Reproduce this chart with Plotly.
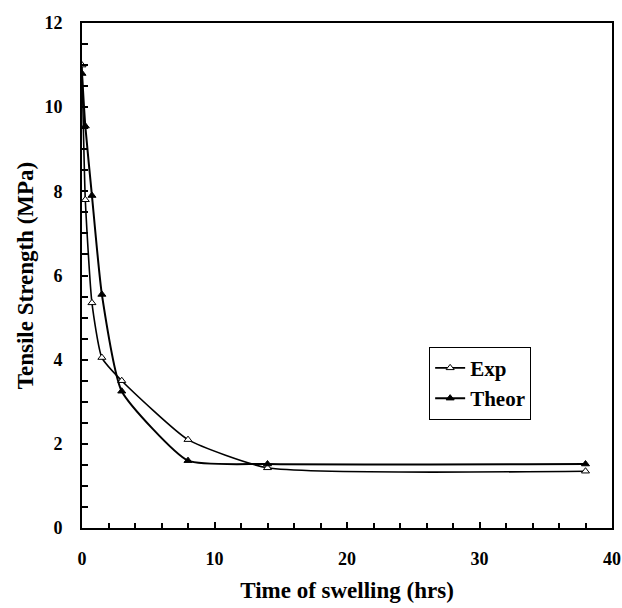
import plotly.graph_objects as go

# Swelling time (hrs) and tensile strength (MPa)
time_exp = [0, 0.25, 0.75, 1.5, 3, 8, 14, 38]
strength_exp = [11.0, 7.8, 5.35, 4.05, 3.5, 2.1, 1.43, 1.35]

time_theor = [0, 0.25, 0.75, 1.5, 3, 8, 14, 38]
strength_theor = [10.8, 9.55, 7.9, 5.55, 3.25, 1.6, 1.52, 1.52]

x_ticks = [0, 10, 20, 30, 40]
y_ticks = [0, 2, 4, 6, 8, 10, 12]

SERIF = "Liberation Serif, Times New Roman, serif"

fig = go.Figure()
fig.add_trace(go.Scatter(
    x=time_exp, y=strength_exp, name="<b>Exp</b>", mode="lines+markers",
    line=dict(color="black", width=1.6, shape="spline", smoothing=0.5),
    marker=dict(symbol="triangle-up", size=7, color="white",
                line=dict(color="black", width=1)),
))
fig.add_trace(go.Scatter(
    x=time_theor, y=strength_theor, name="<b>Theor</b>", mode="lines+markers",
    line=dict(color="black", width=2, shape="spline", smoothing=0.5),
    marker=dict(symbol="triangle-up", size=7, color="black",
                line=dict(color="black", width=1)),
))

axis_common = dict(
    showline=True, linecolor="black", linewidth=2, mirror=True,
    showgrid=False, zeroline=False, ticks="inside", tickcolor="black",
    tickwidth=1.5, ticklen=6, automargin=False,
    tickfont=dict(family=SERIF, size=18, color="black"),
)

fig.update_xaxes(
    range=[0, 40], tickmode="array", tickvals=x_ticks,
    ticktext=[f"<b>{v}</b>" for v in x_ticks], ticklabelstandoff=13,
    minor=dict(dtick=2, ticks="inside", ticklen=5, tickcolor="black", tickwidth=1.5),
    title=dict(text="<b>Time of swelling (hrs)</b>",
               font=dict(family=SERIF, size=23, color="black"), standoff=14),
    **axis_common,
)
fig.update_yaxes(
    range=[0, 12], tickmode="array", tickvals=y_ticks,
    ticktext=[f"<b>{v}</b>" for v in y_ticks], ticklabelstandoff=14,
    minor=dict(dtick=0.5, ticks="inside", ticklen=6, tickcolor="black", tickwidth=1.5),
    title=dict(text="<b>Tensile Strength (MPa)</b>",
               font=dict(family=SERIF, size=23, color="black"), standoff=4),
    **axis_common,
)

fig.update_layout(
    width=622, height=608,
    margin=dict(l=82, r=10, t=23, b=80),
    paper_bgcolor="white", plot_bgcolor="white",
    showlegend=True,
    legend=dict(
        x=0.655, y=0.359, xanchor="left", yanchor="top",
        bordercolor="black", borderwidth=1, bgcolor="white",
        font=dict(family=SERIF, size=21, color="black"),
        itemwidth=30, tracegroupgap=0,
    ),
)

fig.write_html("out.html")
